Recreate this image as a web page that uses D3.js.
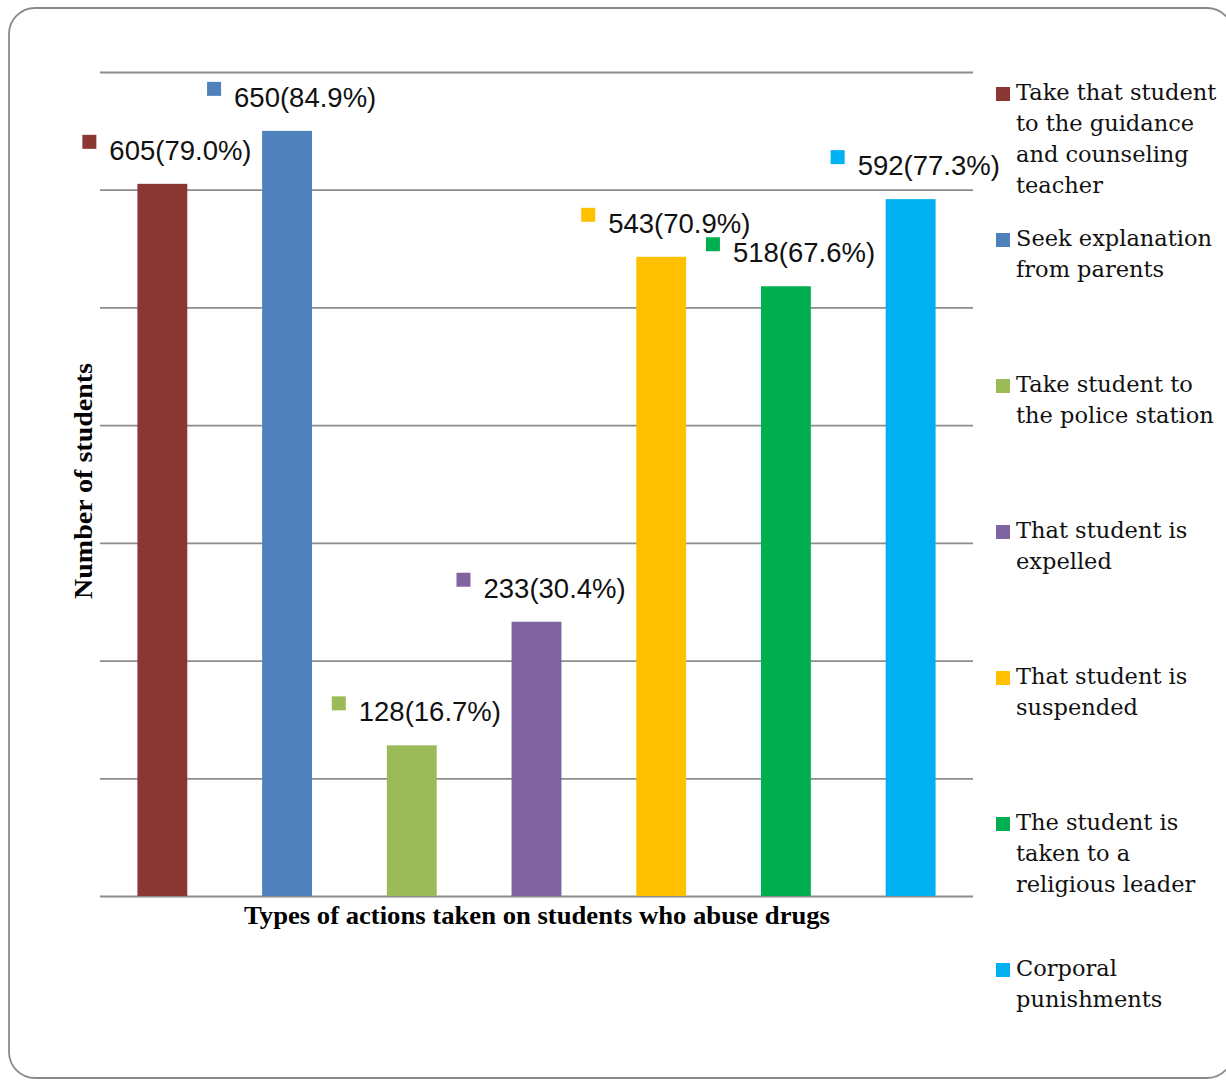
<!DOCTYPE html>
<html>
<head>
<meta charset="utf-8">
<script src="https://cdn.jsdelivr.net/npm/d3@7"></script>
<style>
  html, body { margin: 0; padding: 0; background: #fff; }
</style>
</head>
<body>
<div id="chart-container"></div>
<script>
const categories = [
  "Take that student to the guidance and counseling teacher",
  "Seek explanation from parents",
  "Take student to the police station",
  "That student is expelled",
  "That student is suspended",
  "The student is taken to a religious leader",
  "Corporal punishments",
];
const counts = [605, 650, 128, 233, 543, 518, 592];
const percents = ["79.0", "84.9", "16.7", "30.4", "70.9", "67.6", "77.3"];
const legendLines = [
  ["Take that student", "to the guidance", "and counseling", "teacher"],
  ["Seek explanation", "from parents"],
  ["Take student to", "the police station"],
  ["That student is", "expelled"],
  ["That student is", "suspended"],
  ["The student is", "taken to a", "religious leader"],
  ["Corporal", "punishments"],
];
const yTicks = [0, 100, 200, 300, 400, 500, 600, 700];
const colors = ["#8b3734", "#4f81bd", "#9bbb59", "#8064a2", "#ffc000", "#00b050", "#00b0f0"];

const W = 1226, H = 1080;
const plot = { left: 100, right: 973, top: 72, bottom: 896 };

const svg = d3.select("#chart-container")
  .append("svg")
  .attr("width", W)
  .attr("height", H);

// outer frame
svg.append("rect")
  .attr("x", 9).attr("y", 8)
  .attr("width", 1224).attr("height", 1070)
  .attr("rx", 26).attr("ry", 26)
  .attr("fill", "#fff")
  .attr("stroke", "#8a8a8a")
  .attr("stroke-width", 1.8);

const x = d3.scaleBand()
  .domain(categories)
  .range([plot.left, plot.right])
  .paddingInner(0.6)
  .paddingOuter(0.3);

const y = d3.scaleLinear()
  .domain([0, 700])
  .range([plot.bottom, plot.top]);

// gridlines
const grid = svg.append("g")
  .attr("transform", `translate(${plot.left},0)`)
  .call(d3.axisLeft(y).tickValues(yTicks).tickSize(-(plot.right - plot.left)).tickFormat(""));
grid.select(".domain").remove();
grid.selectAll(".tick line")
  .attr("stroke", "#8c8c8c")
  .attr("stroke-width", 1.8);

// bars
svg.append("g")
  .selectAll("rect")
  .data(counts)
  .join("rect")
  .attr("x", (d, i) => x(categories[i]))
  .attr("y", (d) => y(d))
  .attr("width", x.bandwidth())
  .attr("height", (d) => y(0) - y(d))
  .attr("fill", (d, i) => colors[i]);

// data labels: colour key + value(percent)
const labels = svg.append("g")
  .selectAll("g")
  .data(counts)
  .join("g")
  .attr("transform", (d, i) => `translate(${x(categories[i]) + x.bandwidth() / 2},${y(d)})`);

labels.append("rect")
  .attr("x", -80).attr("y", -49)
  .attr("width", 14).attr("height", 14)
  .attr("fill", (d, i) => colors[i]);

labels.append("text")
  .attr("x", -53).attr("y", -24)
  .attr("font-family", "Liberation Sans, Arial, sans-serif")
  .attr("font-size", 27.5)
  .attr("fill", "#111")
  .text((d, i) => `${d}(${percents[i]}%)`);

// axis titles
svg.append("text")
  .attr("transform", "translate(92,481) rotate(-90)")
  .attr("text-anchor", "middle")
  .attr("font-family", "Liberation Serif, Times New Roman, serif")
  .attr("font-weight", "bold")
  .attr("font-size", 25)
  .attr("textLength", 236)
  .attr("lengthAdjust", "spacingAndGlyphs")
  .attr("fill", "#000")
  .text("Number of students");

svg.append("text")
  .attr("x", 537).attr("y", 924)
  .attr("text-anchor", "middle")
  .attr("font-family", "Liberation Serif, Times New Roman, serif")
  .attr("font-weight", "bold")
  .attr("font-size", 25)
  .attr("textLength", 586)
  .attr("lengthAdjust", "spacingAndGlyphs")
  .attr("fill", "#000")
  .text("Types of actions taken on students who abuse drugs");

// legend
const legend = svg.append("g")
  .selectAll("g")
  .data(categories)
  .join("g")
  .attr("transform", (d, i) => `translate(996,${87 + i * 146})`);

legend.append("rect")
  .attr("width", 14).attr("height", 14)
  .attr("fill", (d, i) => colors[i]);

legend.append("text")
  .attr("font-family", "DejaVu Serif, serif")
  .attr("font-size", 22.5)
  .attr("fill", "#111")
  .selectAll("tspan")
  .data((d, i) => legendLines[i])
  .join("tspan")
  .attr("x", 20)
  .attr("y", (d, j) => 13 + j * 31)
  .text((d) => d);
</script>
</body>
</html>
